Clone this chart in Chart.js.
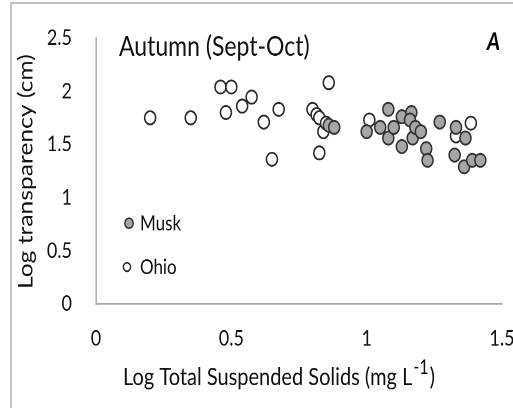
<!DOCTYPE html>
<html><head><meta charset="utf-8">
<script src="https://cdn.jsdelivr.net/npm/chart.js@4.4.1/dist/chart.umd.min.js"></script>
<style>
html,body{margin:0;padding:0;background:#fff;overflow:hidden}
</style>
</head><body>
<canvas id="c" width="513" height="340" style="display:block;width:513px;height:408px"></canvas>
<script>
// ---- data ----
const xTicks = [0, 0.5, 1, 1.5];
const yTicks = [0, 0.5, 1, 1.5, 2, 2.5];
const seriesNames = ['Musk', 'Ohio'];
const muskX = [0.86, 0.88, 1.00, 1.05, 1.08, 1.08, 1.10, 1.13, 1.165, 1.16, 1.13, 1.17, 1.18, 1.20, 1.22, 1.225, 1.27, 1.33, 1.365, 1.325, 1.36, 1.39, 1.42];
const muskY = [1.68, 1.66, 1.62, 1.66, 1.83, 1.56, 1.66, 1.76, 1.80, 1.73, 1.48, 1.56, 1.66, 1.62, 1.46, 1.35, 1.71, 1.66, 1.56, 1.40, 1.29, 1.35, 1.35];
const ohioX = [0.20, 0.35, 0.46, 0.50, 0.48, 0.54, 0.575, 0.62, 0.675, 0.65, 0.80, 0.815, 0.825, 0.825, 0.86, 0.84, 0.85, 1.01, 1.33, 1.385];
const ohioY = [1.75, 1.75, 2.04, 2.04, 1.80, 1.86, 1.945, 1.71, 1.83, 1.36, 1.83, 1.78, 1.75, 1.42, 2.08, 1.62, 1.70, 1.73, 1.58, 1.70];
const chartTitle = 'Autumn (Sept-Oct)';
const panelLabel = 'A';
const xTitleMain = 'Log Total Suspended Solids (mg L';
const xTitleSup = '-1';
const xTitleEnd = ')';
const yTitle = 'Log transparency (cm)';

const FONT = 'Lato, "Open Sans", "DejaVu Sans", sans-serif';
const TEXT = '#111111';

function pts(xs, ys) { return xs.map((x, i) => ({ x: x, y: ys[i] })); }

const deco = {
  id: 'deco',
  beforeDraw(chart) {
    const ctx = chart.ctx;
    ctx.save();
    ctx.fillStyle = '#fff';
    ctx.fillRect(0, 0, chart.width, chart.height);
    ctx.strokeStyle = '#b4b4b4';
    ctx.lineWidth = 1.5;
    ctx.beginPath();
    ctx.moveTo(11, chart.height + 2);
    ctx.lineTo(11, 2.5);
    ctx.lineTo(chart.width + 2, 2.5);
    ctx.stroke();
    ctx.restore();
  },
  afterDatasetsDraw(chart) {
    const ctx = chart.ctx;
    ctx.save();
    ctx.fillStyle = TEXT;
    // title
    ctx.font = '23px ' + FONT;
    ctx.textAlign = 'left';
    ctx.textBaseline = 'alphabetic';
    ctx.fillText(chartTitle, 119, 46.5);
    // panel label
    ctx.font = 'italic bold 20px ' + FONT;
    ctx.textAlign = 'right';
    ctx.fillStyle = '#000';
    ctx.fillText(panelLabel, 500, 41.5);
    ctx.fillStyle = TEXT;
    // legend
    const ds = chart.data.datasets;
    const leg = [[129, 186], [127, 222.5]];
    ds.forEach((d, i) => {
      const [lx, ly] = leg[i];
      ctx.beginPath();
      ctx.arc(lx, ly, i === 0 ? 4.2 : 3.6, 0, Math.PI * 2);
      ctx.fillStyle = d.backgroundColor;
      ctx.fill();
      ctx.lineWidth = 1.4;
      ctx.strokeStyle = d.borderColor;
      ctx.stroke();
      ctx.fillStyle = TEXT;
      ctx.font = '17px ' + FONT;
      ctx.textAlign = 'left';
      ctx.textBaseline = 'middle';
      ctx.fillText(d.label, 140, ly + 0.5);
    });
    // x axis title with superscript
    ctx.textBaseline = 'alphabetic';
    ctx.textAlign = 'left';
    ctx.font = '20px ' + FONT;
    let x0 = 123;
    const by = 321;
    ctx.fillText(xTitleMain, x0, by);
    x0 += ctx.measureText(xTitleMain).width + 1;
    ctx.font = '16px ' + FONT;
    ctx.fillText(xTitleSup, x0, by - 9.5);
    x0 += ctx.measureText(xTitleSup).width + 1;
    ctx.font = '20px ' + FONT;
    ctx.fillText(xTitleEnd, x0, by);
    // y axis title
    ctx.save();
    ctx.translate(26, 143);
    ctx.rotate(-Math.PI / 2);
    ctx.textAlign = 'center';
    ctx.textBaseline = 'middle';
    ctx.font = '20.5px ' + FONT;
    ctx.fillText(yTitle, 0, 0);
    ctx.restore();
    ctx.restore();
  }
};

function zeroPad(s) { s.paddingLeft = 0; s.paddingRight = 0; s.paddingTop = 0; s.paddingBottom = 0; }

new Chart(document.getElementById('c'), {
  type: 'scatter',
  data: {
    datasets: [
      { label: seriesNames[0], data: pts(muskX, muskY), backgroundColor: '#a6a6a6', borderColor: '#333333',
        borderWidth: 1.5, pointRadius: 5.5, pointHoverRadius: 5.5 },
      { label: seriesNames[1], data: pts(ohioX, ohioY), backgroundColor: '#ffffff', borderColor: '#2a2a2a',
        borderWidth: 1.5, pointRadius: 5.5, pointHoverRadius: 5.5 }
    ]
  },
  options: {
    responsive: false,
    devicePixelRatio: 2,
    animation: false,
    events: [],
    layout: { padding: { top: 31.7, right: 11, left: 0, bottom: 0 } },
    plugins: { legend: { display: false }, tooltip: { enabled: false }, title: { display: false } },
    scales: {
      x: {
        type: 'linear', min: 0, max: 1.5,
        afterBuildTicks: s => { s.ticks = xTicks.map(v => ({ value: v })); },
        afterFit: s => { s.height = 340 - 253.3; zeroPad(s); },
        grid: { display: false, drawTicks: false },
        border: { display: true, color: '#a8a8a8', width: 1.4 },
        ticks: { padding: 18, color: TEXT, font: { family: FONT, size: 18 }, maxRotation: 0, autoSkip: false,
                 callback: v => String(v) }
      },
      y: {
        type: 'linear', min: 0, max: 2.5,
        afterBuildTicks: s => { s.ticks = yTicks.map(v => ({ value: v })); },
        afterFit: s => { s.width = 96; zeroPad(s); },
        grid: { display: false, drawTicks: false },
        border: { display: true, color: '#a8a8a8', width: 1.4 },
        ticks: { padding: 24, color: TEXT, font: { family: FONT, size: 18 }, autoSkip: false,
                 callback: v => String(v) }
      }
    }
  },
  plugins: [deco]
});
</script>
</body></html>
